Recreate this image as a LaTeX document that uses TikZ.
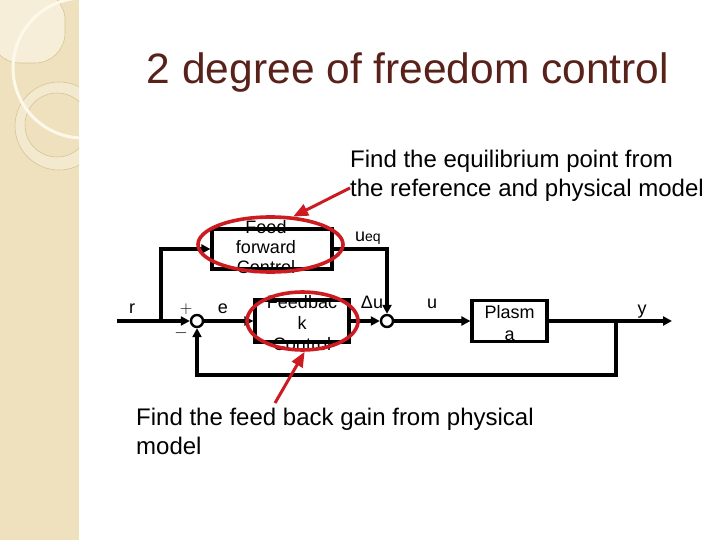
\documentclass[tikz,border=0pt]{standalone}
\usepackage{fontspec}
\setmainfont{Liberation Sans}
\usetikzlibrary{arrows.meta,positioning,shapes.geometric}
\definecolor{strip}{RGB}{239,225,190}
\definecolor{stripl}{RGB}{246,238,216}
\definecolor{cream}{RGB}{253,249,234}
\definecolor{tan}{RGB}{214,196,150}
\definecolor{rust}{RGB}{88,34,26}
\definecolor{mark}{RGB}{204,28,34}
\tikzset{
  >={Triangle[length=9pt,width=9pt]},
  sig/.style={->,line width=3.2pt,draw=black},
  blk/.style={draw,line width=3.2pt,inner sep=0pt},
  sumpt/.style={circle,draw,fill=white,line width=2.4pt,minimum size=12pt,inner sep=0pt},
  lbl/.style={font=\fontsize{18}{#1}\selectfont,align=center,inner sep=0pt},
  lbl/.default=20,
  sgn/.style={font=\fontsize{17}{17}\selectfont,inner sep=0pt},
  note/.style={font=\fontsize{24}{29}\selectfont,align=left,inner sep=0pt},
  ring/.style={ellipse,draw=mark,line width=3.6pt,inner sep=0pt},
  hint/.style={-{Triangle[length=15pt,width=12pt]},draw=mark,line width=3pt},
}

\begin{document}
\begin{tikzpicture}[x=1pt,y=-1pt]
  \useasboundingbox (0,0) rectangle (720,540);
  \fill[white] (0,0) rectangle (720,540);
  % side strip
  \begin{scope}
    \clip (0,0) rectangle (79,540);
    \fill[strip] (0,0) rectangle (79,540);
    \fill[stripl,rounded corners=30pt] (-10,-10) rectangle (65,63);
    \draw[tan,line width=0.6pt,rounded corners=30pt] (-10,-10) rectangle (65,63);
    \fill[stripl!60!strip,even odd rule] (59,126) circle (44) (57,125) circle (32);
    \draw[tan,line width=0.6pt] (59,126) circle (44) (57,125) circle (32);
    \draw[cream,line width=3pt] (83,68) circle (70);
  \end{scope}

  \node[font=\fontsize{42.5}{50}\selectfont,text=rust,anchor=base] (title) at (408,84) {2 degree of freedom control};

  % loop
  \coordinate (in) at (117,321);
  \coordinate (split) at (161,321);
  \node[sumpt] (sumA) at (197,321) {};
  \node[blk,minimum width=120pt,minimum height=40pt] (ff) at (272,249) {};
  \node[blk,minimum width=94pt,minimum height=42pt] (fb) at (302,321) {};
  \node[sumpt] (sumB) at (387,321) {};
  \node[blk,minimum width=75pt,minimum height=41pt] (plant) at (509.5,321) {};
  \coordinate (tap) at (616,321);
  \coordinate (out) at (672,321);

  \draw[sig] (in) -- (sumA);
  \draw[sig] (split) |- (ff);
  \draw[sig] (ff) -| (sumB);
  \draw[sig] (sumA) -- (fb);
  \draw[sig] (fb) -- (sumB);
  \draw[sig] (sumB) -- (plant);
  \draw[sig] (plant) -- (out);
  \draw[sig] (tap) -- ++(0,54) -| (sumA);

  \node[lbl] (fftxt) at (266,247) {Feed\\forward\\Control};
  \node[lbl=21] (fbtxt) at (302,323) {Feedbac\\k\\Control};
  \node[lbl=22] (planttxt) at (509.5,323) {Plasm\\a};

  \node[lbl,anchor=base] (rlab) at (132,313) {r};
  \node[lbl,anchor=base] (elab) at (223,313) {e};
  \node[lbl,anchor=base] (dulab) at (372,308) {Δu};
  \node[lbl,anchor=base] (ulab) at (432,308) {u};
  \node[lbl,anchor=base] (ylab) at (642,314) {y};
  \node[lbl,anchor=base west] (ueqlab) at (355,241) {u{\fontsize{14}{14}\selectfont eq}};
  \node[sgn] (plus) at (186,309) {$+$};
  \node[sgn] (minus) at (181,333) {$-$};

  % notes
  \node[note,anchor=north west] (eqnote) at (350,150) {Find the equilibrium point from\\the reference and physical model};
  \node[note,anchor=north west] (kgnote) at (136,408) {Find the feed back gain from physical\\model};

  \node[ring,minimum width=145pt,minimum height=55pt] (ffring) at (270.5,244.5) {};
  \node[ring,minimum width=111pt,minimum height=58pt] (fbring) at (302.5,321) {};
  \coordinate (eqtail) at (350,188);
  \coordinate (kgtail) at (275,403);
  \draw[hint] (eqtail) -- (ffring.51);
  \draw[hint] (kgtail) -- (fbring.-86);
\end{tikzpicture}
\end{document}
